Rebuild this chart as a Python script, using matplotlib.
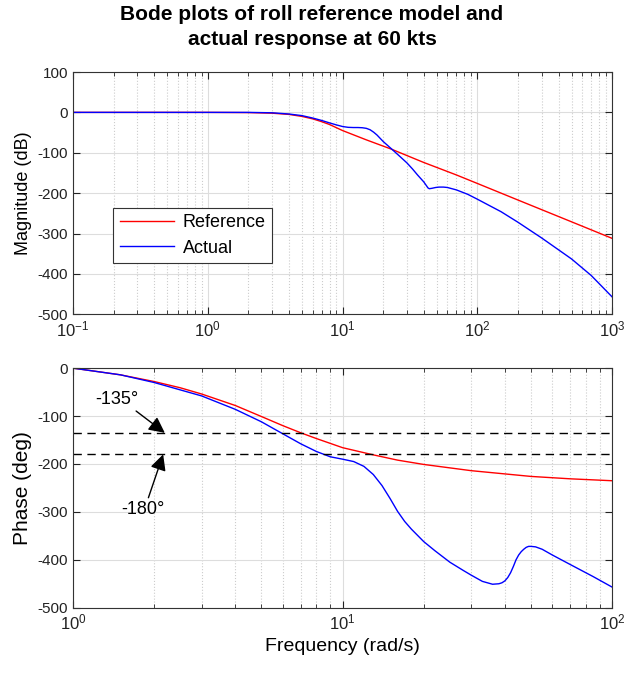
import matplotlib.pyplot as plt
from matplotlib.ticker import LogLocator, NullFormatter

plt.rcParams['font.family'] = ['Liberation Sans', 'DejaVu Sans']
plt.rcParams['mathtext.fontset'] = 'custom'
plt.rcParams['mathtext.rm'] = 'Liberation Sans'
plt.rcParams['axes.unicode_minus'] = False

# magnitude (dB)
w_mag_ref = [0.1, 1, 2, 3, 4, 5, 6, 7, 8, 10, 15, 23, 40, 70, 100, 200, 500, 1000]
mag_ref = [0, 0, -0.5, -2, -5, -10, -16, -23, -30, -45, -68, -91, -124, -155, -176, -217, -271, -312]

w_mag_act = [0.1, 1, 2, 3, 4, 5, 6, 7, 8, 9, 10, 11, 12, 13, 14, 15, 16, 17, 18, 20, 23, 26, 30, 33,
             36, 40, 42, 43, 44, 46, 49, 52, 56, 60, 70, 85, 100, 150, 200, 300, 500, 700, 1000]
mag_act = [0, 0, 0, -1, -4, -8, -14, -20, -26, -31, -35, -37, -37.5, -37.5, -38, -39.5, -43, -49, -56,
           -72, -90, -106, -125, -140, -155, -172, -182, -187, -189, -188, -186, -185, -185, -186, -192,
           -203, -215, -246, -272, -311, -363, -404, -457]

# phase (deg)
w_ph_ref = [1, 1.5, 2, 2.5, 3, 4, 5, 6, 7, 8, 10, 13, 16, 20, 30, 50, 70, 100]
ph_ref = [0, -14, -28, -41, -54, -78, -101, -120, -135, -147, -166, -181, -192, -201, -214, -226, -231, -235]

w_ph_act = [1, 1.5, 2, 3, 4, 5, 6, 7, 8, 9, 10, 11, 12, 13, 14, 15, 16, 17, 18, 20, 22, 25, 28, 30,
            33, 36, 38, 39, 40, 41, 42, 43, 44, 45, 46, 47, 48, 49, 50, 52, 55, 60, 70, 85, 100]
ph_act = [0, -14, -30, -58, -86, -112, -137, -158, -174, -185, -190, -195, -205, -222, -245, -272, -299,
          -320, -336, -362, -381, -405, -422, -432, -445, -451, -450, -448, -444, -437, -427, -414, -400,
          -390, -383, -378, -374, -372, -372, -373, -378, -390, -410, -435, -457]

guides = [-135, -180]


def style(ax):
    ax.grid(True, which='major', color='#dddddd', linewidth=0.8)
    ax.grid(True, which='minor', color='#cccccc', linestyle=':', linewidth=0.8)
    ax.tick_params(which='both', direction='in', top=True, right=True, labelsize=11, colors='#222222')
    ax.tick_params(which='major', length=5)
    ax.tick_params(which='minor', length=3)
    ax.tick_params(axis='x', which='major', labelsize=12)
    ax.xaxis.set_minor_locator(LogLocator(base=10, subs=range(2, 10), numticks=20))
    ax.xaxis.set_minor_formatter(NullFormatter())
    for s in ax.spines.values():
        s.set_color('#333333')
    ax.set_axisbelow(True)


fig = plt.figure(figsize=(6.24, 6.73), dpi=100)
ax1 = fig.add_axes([0.117, 0.533, 0.864, 0.360])
ax2 = fig.add_axes([0.117, 0.097, 0.864, 0.356])

ax1.semilogx(w_mag_ref, mag_ref, color='red', linewidth=1, label='Reference')
ax1.semilogx(w_mag_act, mag_act, color='blue', linewidth=1, label='Actual')
ax1.set_xlim(0.1, 1000)
ax1.set_ylim(-500, 100)
ax1.set_yticks(range(-500, 101, 100))
ax1.set_ylabel('Magnitude (dB)', fontsize=13)
style(ax1)
leg = ax1.legend(loc='lower left', bbox_to_anchor=(0.058, 0.175), fontsize=13, fancybox=False,
                 framealpha=1, edgecolor='#333333', handlelength=3.0, borderpad=0.35,
                 labelspacing=0.45, handletextpad=0.5)
leg.get_frame().set_linewidth(0.8)

ax2.semilogx(w_ph_ref, ph_ref, color='red', linewidth=1)
ax2.semilogx(w_ph_act, ph_act, color='blue', linewidth=1)
for g in guides:
    ax2.axhline(g, color='black', linestyle=(0, (6, 4)), linewidth=1)
ax2.set_xlim(1, 100)
ax2.set_ylim(-500, 0)
ax2.set_yticks(range(-500, 1, 100))
ax2.set_ylabel('Phase (deg)', fontsize=15)
ax2.set_xlabel('Frequency (rad/s)', fontsize=14)
style(ax2)

arrow = dict(arrowstyle='-|>', color='black', mutation_scale=24, linewidth=1, shrinkA=0, shrinkB=0)
ax2.annotate('-135°', xy=(2.19, -135), xytext=(1.46, -66), fontsize=13, ha='center', va='center',
             arrowprops=dict(arrow, relpos=(0.85, 0.0)))
ax2.annotate('-180°', xy=(2.16, -180), xytext=(1.82, -294), fontsize=13, ha='center', va='center',
             arrowprops=dict(arrow, relpos=(0.6, 1.0)))

fig.suptitle('Bode plots of roll reference model and\nactual response at 60 kts', fontsize=15,
             fontweight='bold', y=0.992, linespacing=1.4)

fig.savefig('out.png', dpi=100)
